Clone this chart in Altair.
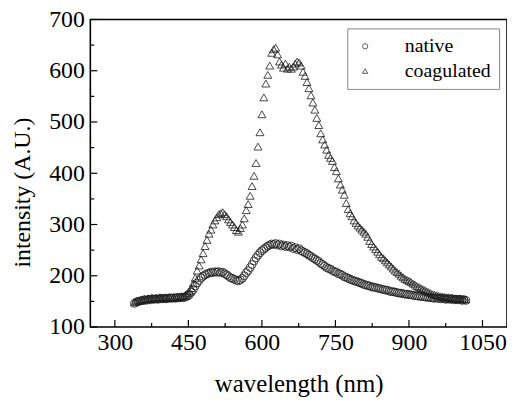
import altair as alt
import pandas as pd

# sampling grid (nm)
wavelength = list(range(340, 1017, 4))

native = [
    146, 149, 150, 151, 152, 153, 152, 154, 153, 155,
    154, 155, 154, 156, 155, 156, 155, 156, 157, 156,
    157, 156, 158, 157, 158, 157, 159, 160, 163, 168,
    173, 180, 186, 191, 196, 199, 202, 204, 205, 207,
    206, 208, 207, 208, 206, 207, 204, 202, 199, 196,
    195, 193, 191, 190, 192, 195, 200, 206, 210, 216,
    222, 229, 235, 240, 245, 249, 252, 255, 258, 260,
    262, 261, 263, 260, 262, 258, 260, 257, 259, 256,
    258, 253, 255, 251, 253, 249, 247, 245, 243, 240,
    238, 235, 233, 230, 228, 224, 222, 219, 216, 214,
    213, 210, 208, 207, 204, 203, 201, 198, 197, 195,
    193, 192, 190, 189, 188, 186, 185, 183, 182, 181,
    180, 178, 178, 177, 176, 175, 174, 173, 172, 172,
    170, 169, 169, 168, 167, 166, 166, 165, 164, 164,
    163, 163, 162, 161, 161, 160, 160, 159, 159, 158,
    158, 157, 157, 156, 157, 156, 155, 156, 155, 154,
    155, 154, 155, 153, 154, 153, 154, 152, 153, 152,
]

coagulated = [
    148, 150, 152, 151, 153, 155, 154, 156, 155, 157,
    156, 157, 155, 158, 156, 157, 158, 156, 158, 157,
    158, 157, 159, 158, 160, 160, 163, 166, 170, 176,
    185, 196, 210, 220, 232, 244, 258, 270, 282, 290,
    300, 308, 314, 320, 322, 324, 320, 316, 310, 305,
    300, 295, 289, 286, 293, 300, 312, 328, 340, 356,
    375, 395, 420, 452, 480, 515, 548, 575, 592, 610,
    635, 642, 645, 632, 618, 612, 606, 614, 604, 608,
    604, 608, 614, 618, 616, 610, 598, 590, 578, 566,
    552, 538, 524, 508, 494, 478, 466, 456, 446, 436,
    430, 424, 412, 404, 390, 378, 368, 358, 342, 330,
    322, 316, 308, 303, 298, 294, 290, 286, 282, 276,
    268, 262, 257, 252, 247, 242, 237, 234, 230, 226,
    222, 218, 214, 210, 207, 204, 200, 197, 194, 192,
    190, 188, 185, 183, 180, 178, 176, 174, 172, 170,
    168, 166, 164, 163, 162, 161, 160, 159, 159, 158,
    158, 157, 157, 156, 156, 155, 156, 155, 155, 154,
]

series_names = ["native", "coagulated"]
x_major = [300, 450, 600, 750, 900, 1050]
x_minor = [375, 525, 675, 825, 975]
y_major = [100, 200, 300, 400, 500, 600, 700]
y_minor = [150, 250, 350, 450, 550, 650]

W, H = 420, 310
FONT = "Liberation Serif"
XT = "wavelength (nm)"
YT = "intensity (A.U.)"

df = pd.DataFrame({
    "wavelength": wavelength * 2,
    "intensity": native + coagulated,
    "sample": ["native"] * len(native) + ["coagulated"] * len(coagulated),
})

xscale = alt.Scale(domain=[250, 1100], nice=False, zero=False)
yscale = alt.Scale(domain=[100, 700], nice=False, zero=False)

points = alt.Chart(df).mark_point(
    filled=False, size=64, strokeWidth=0.8, color="#1a1a1a", opacity=1
).encode(
    x=alt.X("wavelength:Q", scale=xscale, title=XT,
            axis=alt.Axis(values=x_major, format="d", ticks=False, domain=False,
                          grid=False, labelFontSize=24, labelFont=FONT,
                          labelColor="black", labelPadding=4,
                          titleFont=FONT, titleFontSize=25, titleFontWeight="normal",
                          titleColor="black", titlePadding=17)),
    y=alt.Y("intensity:Q", scale=yscale, title=YT,
            axis=alt.Axis(values=y_major, format="d", ticks=False, domain=False,
                          grid=False, labelFontSize=24, labelFont=FONT,
                          labelColor="black", labelPadding=6,
                          titleFont=FONT, titleFontSize=24, titleFontWeight="normal",
                          titleColor="black", titlePadding=14, titleY=174)),
    shape=alt.Shape("sample:N",
                    scale=alt.Scale(domain=series_names, range=["circle", "triangle-up"]),
                    legend=alt.Legend(title=None, orient="none", legendX=259, legendY=9,
                                      strokeColor="#888888", fillColor="white",
                                      padding=8, labelFont=FONT, labelFontSize=20,
                                      labelColor="black", labelOffset=30,
                                      symbolSize=28, symbolStrokeWidth=0.8,
                                      symbolStrokeColor="#333333", symbolFillColor="transparent",
                                      rowPadding=5)),
)


def xticks(vals, length):
    d = pd.DataFrame({"wavelength": vals})
    return alt.Chart(d).mark_rule(color="black", strokeWidth=1.2).encode(
        x=alt.X("wavelength:Q", scale=xscale, title=XT),
        y=alt.value(H), y2=alt.value(H - length))


def yticks(vals, length):
    d = pd.DataFrame({"intensity": vals})
    return alt.Chart(d).mark_rule(color="black", strokeWidth=1.2).encode(
        y=alt.Y("intensity:Q", scale=yscale, title=YT),
        x=alt.value(0), x2=alt.value(length))


chart = alt.layer(
    points,
    xticks(x_major, 7), xticks(x_minor, 4),
    yticks(y_major, 7), yticks(y_minor, 4),
).properties(
    width=W, height=H,
    background="white",
    autosize=alt.AutoSizeParams(type="none"),
    padding={"left": 83, "top": 10, "right": 0, "bottom": 74},
).configure_view(
    stroke="black", strokeWidth=1.6
)

chart.save("out.html", embed_options={"renderer": "svg", "actions": False})
